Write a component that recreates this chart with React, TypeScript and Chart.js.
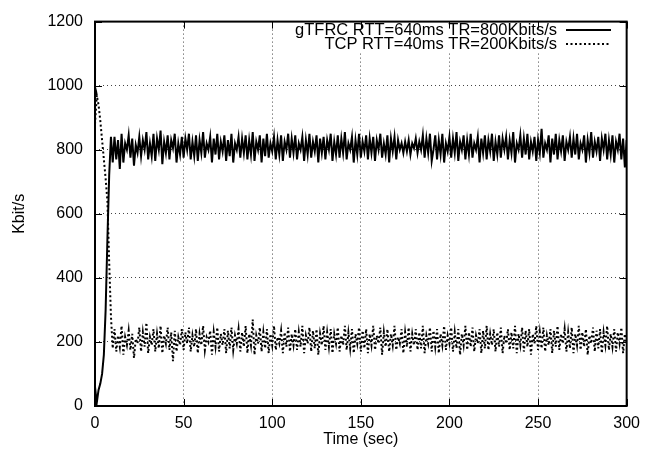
import React, { useEffect, useRef } from "react";
import { Chart, registerables } from "chart.js";

Chart.register(...registerables);

// Series sampled once per second, t = 0 .. 300 s
const gtfrc: number[] = [
  60, 10, 50, 70, 100, 160, 300, 520, 720, 840, 760,
  840, 770, 830, 740, 850, 760, 820, 800, 845, 775, 835, 750, 815, 790, 840, 780, 830, 800, 855, 770,
  820, 780, 850, 765, 835, 800, 860, 755, 825, 790, 845, 770, 830, 805, 850, 760, 820, 785, 840, 775,
  835, 800, 850, 770, 825, 780, 845, 765, 830, 790, 855, 775, 820, 800, 840, 760, 835, 785, 850, 770,
  825, 795, 845, 765, 830, 780, 850, 760, 820, 800, 840, 775, 835, 790, 845, 770, 830, 785, 855, 765,
  825, 800, 845, 760, 835, 780, 850, 775, 820, 795, 840, 770, 830, 785, 845, 765, 825, 800, 850, 775,
  835, 790, 845, 770, 820, 800, 840, 765, 830, 785, 850, 775, 825, 795, 845, 760, 835, 790, 840, 770,
  830, 800, 850, 765, 825, 785, 845, 775, 835, 790, 855, 770, 820, 800, 840, 760, 830, 785, 850, 775,
  825, 795, 845, 770, 835, 790, 840, 765, 830, 800, 850, 775, 820, 785, 845, 760, 835, 795, 840, 770,
  830, 800, 820, 790, 825, 795, 830, 785, 820, 805, 835, 790, 825, 800, 845, 775, 835, 790, 850, 765,
  800, 845, 770, 830, 785, 850, 760, 820, 795, 840, 775, 835, 790, 855, 765, 825, 800, 845, 770, 830,
  785, 850, 775, 820, 800, 840, 760, 835, 790, 845, 770, 830, 795, 850, 765, 825, 785, 845, 775, 835,
  800, 840, 770, 830, 790, 855, 760, 820, 800, 845, 775, 835, 785, 850, 770, 825, 795, 840, 765, 830,
  790, 865, 775, 820, 800, 845, 760, 835, 785, 850, 770, 830, 795, 845, 765, 825, 800, 840, 775, 835,
  785, 850, 770, 820, 800, 845, 760, 830, 790, 855, 775, 825, 795, 840, 765, 835, 800, 850, 770, 830,
  785, 845, 760, 825, 800, 850, 770, 835, 745, 830,
];

const tcp: number[] = [
  880, 970, 940, 890, 830, 770, 710, 640, 450, 280, 180,
  240, 170, 220, 185, 250, 160, 215, 190, 235, 175, 225, 150, 210, 195, 245, 170, 230, 185, 260, 165,
  215, 190, 240, 170, 225, 180, 250, 165, 220, 195, 245, 175, 230, 140, 235, 170, 215, 190, 240, 175,
  230, 195, 245, 170, 220, 185, 240, 165, 225, 190, 250, 175, 215, 200, 235, 160, 230, 185, 245, 170,
  225, 190, 240, 165, 235, 180, 245, 175, 220, 195, 240, 170, 230, 185, 250, 165, 225, 190, 270, 160,
  220, 195, 245, 170, 230, 180, 240, 165, 225, 190, 250, 175, 215, 195, 235, 165, 230, 185, 245, 170,
  225, 190, 240, 175, 230, 185, 250, 165, 220, 195, 245, 170, 235, 180, 240, 160, 225, 190, 250, 175,
  230, 185, 240, 165, 225, 195, 245, 170, 220, 190, 250, 175, 230, 180, 240, 165, 225, 195, 245, 170,
  235, 180, 240, 165, 225, 190, 250, 175, 220, 195, 245, 160, 230, 185, 240, 170, 225, 190, 250, 175,
  215, 195, 240, 165, 230, 185, 245, 170, 225, 190, 240, 175, 230, 180, 250, 165, 220, 195, 245, 170,
  235, 185, 240, 165, 225, 190, 250, 175, 220, 195, 245, 170, 230, 180, 240, 160, 225, 190, 250, 175,
  230, 185, 245, 170, 220, 195, 240, 165, 235, 180, 250, 175, 225, 190, 240, 170, 230, 185, 245, 165,
  220, 195, 240, 175, 230, 180, 250, 165, 225, 190, 245, 170, 235, 185, 240, 160, 225, 195, 250, 175,
  230, 180, 245, 170, 220, 190, 240, 165, 235, 185, 250, 175, 225, 195, 240, 170, 230, 180, 245, 165,
  225, 190, 250, 175, 230, 185, 240, 160, 220, 195, 245, 170, 235, 180, 240, 165, 230, 190, 250, 175,
  225, 185, 240, 170, 230, 195, 245, 165, 225, 195,
];

const seriesLabels = ["gTFRC RTT=640ms TR=800Kbits/s", "TCP RTT=40ms TR=200Kbits/s"];
const xTicks = [0, 50, 100, 150, 200, 250, 300];
const yTicks = [0, 200, 400, 600, 800, 1000, 1200];

const FONT = '"Liberation Sans", Arial, Helvetica, sans-serif';

const framePlugin = {
  id: "gnuFrame",
  beforeDatasetsDraw(chart: any) {
    const ctx = chart.ctx;
    ctx.save();
    ctx.fillStyle = "#fff";
    ctx.fillRect(290, 17, 336, 35);
    ctx.restore();
  },
  afterDraw(chart: any) {
    const ctx = chart.ctx;
    const { left, right, top, bottom } = chart.chartArea;
    const xs = chart.scales.x;
    const ys = chart.scales.y;
    ctx.save();
    ctx.strokeStyle = "#000";
    ctx.lineWidth = 1;
    ctx.beginPath();
    for (const v of xTicks) {
      const px = Math.round(xs.getPixelForValue(v)) + 0.5;
      ctx.moveTo(px, bottom);
      ctx.lineTo(px, bottom - 7);
      ctx.moveTo(px, top);
      ctx.lineTo(px, top + 7);
    }
    for (const v of yTicks) {
      const py = Math.round(ys.getPixelForValue(v)) + 0.5;
      ctx.moveTo(left, py);
      ctx.lineTo(left + 7, py);
      ctx.moveTo(right, py);
      ctx.lineTo(right - 7, py);
    }
    ctx.stroke();
    ctx.lineWidth = 2;
    ctx.strokeRect(left, top, right - left, bottom - top);

    // key
    ctx.font = `16.5px ${FONT}`;
    ctx.fillStyle = "#000";
    ctx.textAlign = "right";
    ctx.textBaseline = "middle";
    const rows = [30, 44];
    seriesLabels.forEach((lab, i) => {
      ctx.fillText(lab, 557, rows[i]);
      ctx.beginPath();
      ctx.lineWidth = 2;
      ctx.setLineDash(i === 0 ? [] : [2, 2.5]);
      ctx.moveTo(566, rows[i]);
      ctx.lineTo(611, rows[i]);
      ctx.stroke();
    });
    ctx.restore();
  },
};

export default function App() {
  const ref = useRef<HTMLCanvasElement | null>(null);
  useEffect(() => {
    document.body.style.margin = "0";
    const canvas = ref.current;
    if (!canvas) return;
    const chart = new Chart(canvas, {
      type: "line",
      data: {
        datasets: [
          {
            label: seriesLabels[0],
            data: gtfrc.map((v, i) => ({ x: i, y: v })),
            borderColor: "#000",
            borderWidth: 2,
            pointRadius: 0,
            tension: 0,
          },
          {
            label: seriesLabels[1],
            data: tcp.map((v, i) => ({ x: i, y: v })),
            borderColor: "#000",
            borderWidth: 2,
            borderDash: [2, 2.5],
            pointRadius: 0,
            tension: 0,
          },
        ],
      },
      options: {
        responsive: false,
        animation: false,
        devicePixelRatio: 1,
        layout: { padding: { left: 0, top: 15, right: 18, bottom: 0 } },
        plugins: { legend: { display: false }, tooltip: { enabled: false } },
        scales: {
          x: {
            type: "linear",
            min: 0,
            max: 300,
            afterFit: (s: any) => {
              s.height = 53;
            },
            afterBuildTicks: (s: any) => {
              s.ticks = xTicks.map((v) => ({ value: v }));
            },
            ticks: {
              color: "#000",
              padding: 8,
              font: { family: FONT, size: 16 },
              maxRotation: 0,
              callback: (v: any) => String(v),
            },
            grid: { color: "#444", lineWidth: 1, drawTicks: false },
            border: { display: false, dash: [1, 3] },
            title: {
              display: true,
              text: "Time (sec)",
              color: "#000",
              font: { family: FONT, size: 16 },
              padding: { top: 0, bottom: 10 },
            },
          },
          y: {
            type: "linear",
            min: 0,
            max: 1200,
            afterFit: (s: any) => {
              s.width = 95;
            },
            afterBuildTicks: (s: any) => {
              s.ticks = yTicks.map((v) => ({ value: v }));
            },
            ticks: {
              color: "#000",
              padding: 12,
              font: { family: FONT, size: 16 },
              callback: (v: any) => String(v),
            },
            grid: { color: "#444", lineWidth: 1, drawTicks: false },
            border: { display: false, dash: [1, 3] },
            title: {
              display: true,
              text: "Kbit/s",
              color: "#000",
              font: { family: FONT, size: 16 },
              padding: { top: 10, bottom: 0 },
            },
          },
        },
      },
      plugins: [framePlugin],
    });
    return () => chart.destroy();
  }, []);
  return <canvas ref={ref} width={648} height={459} style={{ display: "block" }} />;
}
